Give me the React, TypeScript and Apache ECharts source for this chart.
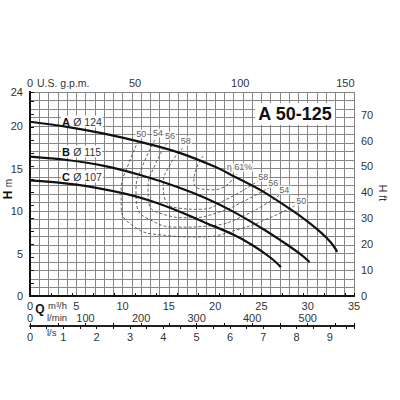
import React, { useEffect, useRef } from "react";
import * as echarts from "echarts";

// Pump curves: [Q m³/h, H m]
const curveA = [[0, 20.5], [4, 19.9], [8, 19.1], [12, 18.1], [16, 16.9], [20, 15.2], [22, 14.1], [25, 12.4], [28, 10.3], [30, 8.75], [31.5, 7.4], [32.5, 6.3], [33.2, 5.2]];
const curveB = [[0, 16.4], [4, 16.0], [8, 15.3], [12, 14.2], [16, 12.8], [19, 11.5], [22, 9.9], [25, 8.0], [27, 6.6], [29, 5.1], [30.2, 4.0]];
const curveC = [[0, 13.6], [5, 13.1], [10, 12.1], [13, 11.2], [16, 10.0], [19, 8.6], [22, 7.2], [24, 6.0], [26, 4.5], [27.1, 3.4]];

// Efficiency iso-lines: [Q m³/h, H m]
const eff61 = [[18.7, 16.5], [17.9, 14.8], [17.7, 13.4], [18.4, 12.6], [20.0, 12.5], [22.3, 14.3]];
const eff58 = [[16.5, 17.4], [15.1, 15.4], [14.4, 13.1], [14.6, 11.3], [16.0, 10.35], [18.4, 10.2], [21.1, 11.3], [24.6, 13.5]];
const eff56 = [[14.8, 18.0], [13.5, 15.4], [12.75, 12.7], [12.85, 10.9], [14.3, 9.65], [17.3, 9.2], [20.5, 9.9], [23.2, 11.2], [25.9, 12.8]];
const eff54 = [[13.5, 18.35], [12.2, 15.4], [11.45, 12.5], [11.55, 10.6], [13.0, 8.95], [16.0, 8.1], [19.4, 8.25], [23.2, 9.5], [27.1, 12.0]];
const eff50 = [[11.7, 18.25], [10.6, 15.4], [9.85, 12.5], [9.85, 10.5], [11.0, 8.35], [14.0, 7.2], [18.4, 6.95], [22.7, 7.9], [25.9, 9.2], [28.6, 10.6]];

const effLevels = ["50", "54", "56", "58"];
const effCurves = [eff50, eff54, eff56, eff58];

const Q_MAX = 35;
const H_MAX = 24;
const GPM_PER_M3H = 4.40287;
const FT_PER_M = 1 / 0.3048;

const FONT = "Liberation Sans, Arial, Helvetica, sans-serif";
const TXT = "#333";

export default function App() {
  const ref = useRef<HTMLDivElement>(null);
  useEffect(() => {
    if (!ref.current) return;
    const chart = echarts.init(ref.current, null, { renderer: "svg" });

    const curveSeries = [curveA, curveB, curveC].map((d) => ({
      type: "line",
      xAxisIndex: 0,
      yAxisIndex: 0,
      data: d,
      smooth: 0.35,
      showSymbol: false,
      lineStyle: { color: "#111", width: 2.2 },
      z: 6,
    }));

    const effSeries = [...effCurves, eff61].map((d) => ({
      type: "line",
      xAxisIndex: 0,
      yAxisIndex: 0,
      data: d,
      smooth: 0.5,
      showSymbol: false,
      lineStyle: { color: "#555", width: 0.9, type: [3, 2] },
      z: 3,
    }));

    const rightOffsets: Record<string, number[]> = { "50": [0, -5], "54": [-3, -4], "56": [-3, -4], "58": [-1, -4] };
    const labelData: any[] = [];
    effCurves.forEach((c, i) => {
      const lv = effLevels[i];
      labelData.push({ value: c[0], name: lv, label: { position: "top", distance: 2, offset: [3, 0] } });
      labelData.push({ value: c[c.length - 1], name: lv, label: { position: "right", distance: 0, offset: rightOffsets[lv] } });
    });
    labelData.push({ value: eff61[eff61.length - 1], name: "η 61%", label: { position: "top", distance: 1, offset: [3, -1] } });

    const labelStyle = { fontFamily: FONT, color: TXT };

    chart.setOption({
      animation: false,
      textStyle: { fontFamily: FONT },
      grid: { left: 30, right: 46, top: 92, bottom: 104, show: false },
      xAxis: [
        {
          type: "value", min: 0, max: Q_MAX, interval: 1, position: "bottom",
          axisLine: { show: true, lineStyle: { color: "#111", width: 2 } },
          axisTick: { show: false },
          axisLabel: { ...labelStyle, fontSize: 11, margin: 4, formatter: (v: number) => (v % 5 === 0 ? String(v) : "") },
          splitLine: { show: true, lineStyle: { color: "#858585", width: 1 } },
        },
        {
          type: "value", min: 0, max: Q_MAX * GPM_PER_M3H, interval: 10, position: "top",
          axisLine: { show: true, lineStyle: { color: "#111", width: 2 } },
          axisTick: { show: true, length: 3, lineStyle: { color: "#111" } },
          axisLabel: { ...labelStyle, fontSize: 11, margin: 4, formatter: (v: number) => (v % 50 === 0 ? String(v) : "") },
          splitLine: { show: false },
        },
        {
          type: "value", min: 0, max: (Q_MAX * 1000) / 60, interval: 50, position: "bottom", offset: 30,
          axisLine: { show: true, lineStyle: { color: "#111", width: 1.5 } },
          axisTick: { show: true, inside: true, length: 3, lineStyle: { color: "#111" } },
          axisLabel: { ...labelStyle, fontSize: 11, inside: true, margin: 3, formatter: (v: number) => (v % 100 === 0 ? String(v) : "") },
          splitLine: { show: false },
        },
        {
          type: "value", min: 0, max: Q_MAX / 3.6, interval: 0.5, position: "bottom", offset: 30,
          axisLine: { show: true, lineStyle: { color: "#111", width: 1.5 } },
          axisTick: { show: true, length: 3, lineStyle: { color: "#111" } },
          axisLabel: { ...labelStyle, fontSize: 11, margin: 5, formatter: (v: number) => (Math.abs(v - Math.round(v)) < 1e-6 ? String(Math.round(v)) : "") },
          splitLine: { show: false },
        },
      ],
      yAxis: [
        {
          type: "value", min: 0, max: H_MAX, interval: 1, position: "left",
          axisLine: { show: true, lineStyle: { color: "#111", width: 2 } },
          axisTick: { show: false },
          axisLabel: { ...labelStyle, fontSize: 11, margin: 7, formatter: (v: number) => (v % 5 === 0 || v === 24 ? String(v) : "") },
          splitLine: { show: true, lineStyle: { color: "#858585", width: 1 } },
        },
        {
          type: "value", min: 0, max: H_MAX * FT_PER_M, interval: 5, position: "right",
          axisLine: { show: true, lineStyle: { color: "#111", width: 2 } },
          axisTick: { show: true, length: 4, lineStyle: { color: "#111" } },
          axisLabel: { ...labelStyle, fontSize: 11, margin: 7, formatter: (v: number) => (v % 10 === 0 ? String(v) : "") },
          splitLine: { show: false },
        },
      ],
      series: [
        ...effSeries,
        {
          type: "scatter",
          xAxisIndex: 0,
          yAxisIndex: 0,
          data: labelData,
          symbolSize: 1,
          itemStyle: { color: "rgba(0,0,0,0)" },
          label: {
            show: true,
            formatter: "{b}",
            fontSize: 9,
            fontFamily: FONT,
            color: TXT,
            backgroundColor: "#fff",
            padding: [0, 1],
          },
          z: 4,
        },
        ...curveSeries,
      ],
      graphic: [
        {
          type: "text", x: 295, y: 114, z: 1,
          style: { text: "A 50-125", font: `bold 18px ${FONT}`, fill: "#111", align: "center", verticalAlign: "middle", backgroundColor: "#fff", padding: [2, 3] },
        },
        ...[
          ["A", "Ø 124", 121.5],
          ["B", "Ø 115", 151.5],
          ["C", "Ø 107", 176.5],
        ].map(([a, b, y]) => ({
          type: "text", x: 61, y: y as number, z: 1,
          style: {
            text: `{a|${a}} {b|${b}}`,
            rich: {
              a: { fontFamily: FONT, fontWeight: "bold", fontSize: 11, fill: "#111" },
              b: { fontFamily: FONT, fontSize: 10.5, fill: TXT },
            },
            verticalAlign: "middle",
            backgroundColor: "#fff",
            padding: [0, 1],
          },
        })),
        {
          type: "text", x: 37, y: 83, z: 1,
          style: { text: "U.S. g.p.m.", font: `10.5px ${FONT}`, fill: TXT, verticalAlign: "middle" },
        },
        {
          type: "text", x: 8, y: 189, rotation: Math.PI / 2, z: 1,
          style: {
            text: "{h|H} {m|m}",
            rich: {
              h: { fontFamily: FONT, fontWeight: "bold", fontSize: 12, fill: "#111" },
              m: { fontFamily: FONT, fontSize: 10, fill: TXT },
            },
            align: "center", verticalAlign: "middle",
          },
        },
        {
          type: "text", x: 383, y: 193, rotation: -Math.PI / 2, z: 1,
          style: { text: "H ft", font: `10.5px ${FONT}`, fill: TXT, align: "center", verticalAlign: "middle" },
        },
        {
          type: "text", x: 40, y: 308.5, z: 1,
          style: { text: "Q", font: `bold 12px ${FONT}`, fill: "#111", align: "center", verticalAlign: "middle" },
        },
        {
          type: "text", x: 48, y: 305, z: 1,
          style: { text: "m³/h", font: `9.5px ${FONT}`, fill: TXT, verticalAlign: "middle" },
        },
        {
          type: "text", x: 47, y: 317.5, z: 1,
          style: { text: "l/min", font: `9.5px ${FONT}`, fill: TXT, verticalAlign: "middle" },
        },
        {
          type: "text", x: 47, y: 332, z: 1,
          style: { text: "l/s", font: `9.5px ${FONT}`, fill: TXT, verticalAlign: "middle" },
        },
      ],
    });
    return () => chart.dispose();
  }, []);
  return <div ref={ref} style={{ position: "fixed", left: 0, top: 0, width: 400, height: 400, background: "#fff" }} />;
}
